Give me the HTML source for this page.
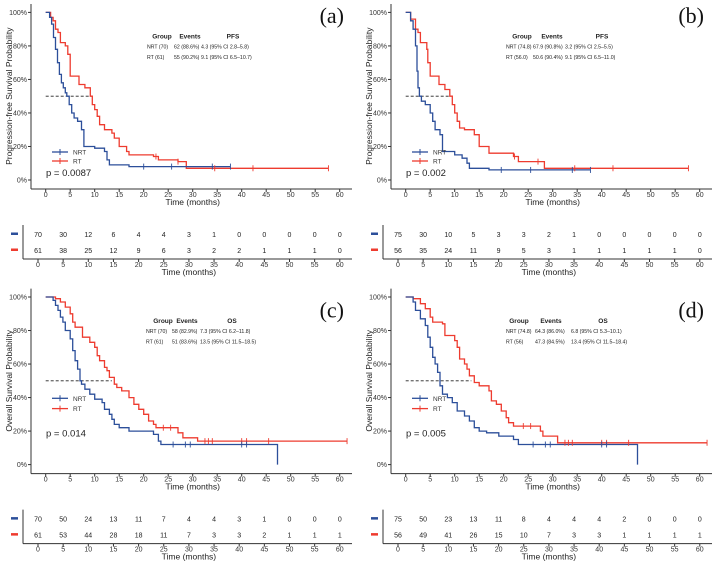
<!DOCTYPE html>
<html><head><meta charset="utf-8"><style>
html,body{margin:0;padding:0;background:#fff;}
svg{display:block;font-family:"Liberation Sans",Arial,sans-serif;}
</style></head><body>
<svg id="fig" width="717" height="564" viewBox="0 0 717 564" xmlns="http://www.w3.org/2000/svg"></svg>
<script>
// ---- data ----
const xTicks=[0,5,10,15,20,25,30,35,40,45,50,55,60];
const yTicks=[0,20,40,60,80,100];
const panelLabels=["(a)","(b)","(c)","(d)"];
const yTitles=["Progression-free Survival Probability","Progression-free Survival Probability","Overall Survival Probability","Overall Survival Probability"];
const pValues=["p = 0.0087","p = 0.002","p = 0.014","p = 0.005"];
const endpoint=["PFS","PFS","OS","OS"];
const tblNrt=[["NRT (70)","62 (88.6%)","4.3 (95% CI 2.8\u20135.8)"],["NRT (74.8)","67.9 (90.8%)","3.2 (95% CI 2.5\u20135.5)"],["NRT (70)","58 (82.9%)","7.3 (95% CI 6.2\u201311.8)"],["NRT (74.8)","64.3 (86.0%)","6.8 (95% CI 5.3\u201310.1)"]];
const tblRt=[["RT (61)","55 (90.2%)","9.1 (95% CI 6.5\u201310.7)"],["RT (56.0)","50.6 (90.4%)","9.1 (95% CI 6.5\u201311.0)"],["RT (61)","51 (83.6%)","13.5 (95% CI 11.5\u201318.5)"],["RT (56)","47.3 (84.5%)","13.4 (95% CI 11.5\u201318.4)"]];
const riskNrt=[[70,30,12,6,4,4,3,1,0,0,0,0,0],[75,30,10,5,3,3,2,1,0,0,0,0,0],[70,50,24,13,11,7,4,4,3,1,0,0,0],[75,50,23,13,11,8,4,4,4,2,0,0,0]];
const riskRt=[[61,38,25,12,9,6,3,2,2,1,1,1,0],[56,35,24,11,9,5,3,1,1,1,1,1,0],[61,53,44,28,18,11,7,3,3,2,1,1,1],[56,49,41,26,15,10,7,3,3,1,1,1,1]];
const medianRt=[9.1,9.1,13.5,13.4];
// NRT curves
const aNrtT=[0.8,1.2,1.6,2,2.4,2.8,3.2,3.6,4,4.3,4.8,5.3,5.8,6.5,7.3,7.8,10,12,12.5,13,17];
const aNrtS=[97,93,85,78,70,63,58,55,52,50,45,40,37,35,30,20,19,17,12,9,8];
const bNrtT=[1,1.5,2,2.3,2.5,2.8,3.2,4,5,5.5,6,7,7.5,10,11.5,12.5,13,17];
const bNrtS=[95,90,80,65,55,50,47,45,40,35,30,27,17,15,13,10,7,6];
const cNrtT=[1.5,2,2.5,3,3.5,4,5,5.5,6,6.5,7,7.3,8,9,10,11.5,12,13,13.5,14,15,17,22,23,23.5,47.3];
const cNrtS=[98,95,92,88,85,80,75,68,62,57,50,48,45,42,39,37,33,30,27,24,22,20,18,14,12,0];
const dNrtT=[1.5,2,3,4,4.5,5,5.5,6,6.5,7,7.5,8.5,9.5,10.5,12,13,14,15,16.5,19,22,23,47.3];
const dNrtS=[97,92,87,83,76,70,64,60,55,47,42,40,37,32,29,26,22,20,19,17,15,12,0];
// RT curves
const aRtT=[1,1.5,2,2.5,3,4,4.5,5,6.8,8,9.1,9.5,10,10.5,11,12,13.5,14,15,16.5,17,22,23,27,28.7];
const aRtS=[97,95,90,88,82,80,75,62,57,55,50,45,42,38,33,30,28,25,20,17,15,14,12,11,7];
const bRtT=[1,2,2.5,3,4.3,4.5,5,6.8,8,9,9.5,10,10.5,11,12,14,15,17,22,23,28.3];
const bRtS=[96,90,88,82,78,70,62,57,54,50,45,40,35,31,30,27,20,16,14,11,7];
const cRtT=[2,3,4,5,5.5,6,7.5,9,10,10.5,11,12,12.5,13,14,14.5,15.5,17,18,19,20,21,22,22.5,27,28,31];
const cRtS=[99,97,94,90,85,82,76,73,70,65,62,58,56,52,48,46,44,40,36,33,30,26,24,22,19,16,14];
const dRtT=[1.5,3,4,5,5.5,7.5,8,10,10.5,11,12,12.5,13,14,15,17,17.5,18.5,19.5,20.5,21,22,27.5,28,31];
const dRtS=[99,96,93,88,85,84,77,74,70,63,60,57,53,49,47,44,38,36,32,28,25,23,20,17,13];
const nrtEnd=[37.7,37.7,47.3,47.3];
const rtEnd=[57.7,57.7,61.5,61.5];
const nrtCens=[[20,25.7,34,37.7],[19.5,25.5,34,37.7],[26,28.5,29.5,40,41],[26,28.5,29.5,40,41]];
const rtCens=[[22.5,27,34.5,42.3,57.7],[22.2,27,34.5,42.3,57.7],[24,25.5,32.5,33.2,34,40,41,45.5,61.5],[24,25.5,32.5,33.2,34,40,41,45.5,61.5]];
const nrtT=[aNrtT,bNrtT,cNrtT,dNrtT], nrtS=[aNrtS,bNrtS,cNrtS,dNrtS];
const rtT=[aRtT,bRtT,cRtT,dRtT], rtS=[aRtS,bRtS,cRtS,dRtS];

const NS="http://www.w3.org/2000/svg";
const svg=document.getElementById('fig');
const BLUE="#2c4f9a", RED="#ee3b2f";
function mk(tag,attrs,parent,text){const e=document.createElementNS(NS,tag);for(const k in attrs)e.setAttribute(k,attrs[k]);if(text!==undefined)e.textContent=text;parent.appendChild(e);return e;}
const X=m=>45.7+m*4.9, Y=p=>180-p*1.676, RX=m=>38+m*5.03;
function survAt(T,S,t){let s=100;for(let i=0;i<T.length;i++){if(T[i]<=t)s=S[i];}return s;}
function stepPath(T,S,end){let d="M"+X(0)+","+Y(100);for(let i=0;i<T.length;i++){d+=" H"+X(T[i]).toFixed(1)+" V"+Y(S[i]).toFixed(1);}if(end>T[T.length-1])d+=" H"+X(end).toFixed(1);return d;}
const offs=[[0,0],[360,0],[0,284.6],[360,284.6]];
const hdrX=[[162,190,233],[162,192,242],[163,187,232],[159,191,243]];
const colX=[[147,174,201],[146,173,205],[146,172,200],[146,175,211]];
for(let p=0;p<4;p++){
  const g=mk('g',{transform:`translate(${offs[p][0]},${offs[p][1]})`},svg);
  
  
  const ax=mk('g',{},g);
  
  
  mk('line',{x1:31,y1:4,x2:31,y2:189,stroke:'#333','stroke-width':1},ax);
  mk('line',{x1:31,y1:189,x2:352,y2:189,stroke:'#333','stroke-width':1},ax);
  yTicks.forEach(t=>{mk('line',{x1:28,x2:31,y1:Y(t),y2:Y(t),stroke:'#333'},ax);
    const tl=mk('text',{x:27,y:Y(t)+2.5,'font-size':7,'text-anchor':'end',fill:'#333'},ax,t+'%');
    });
  xTicks.forEach(t=>{mk('line',{x1:X(t),x2:X(t),y1:189,y2:192,stroke:'#333'},ax);
    const tl=mk('text',{x:X(t),y:197,'font-size':7,'text-anchor':'middle',fill:'#333'},ax,t);
    });
  const xt=mk('text',{x:X(30),y:205,'font-size':8.5,'text-anchor':'middle',fill:'#222'},g,'Time (months)');
  
  const yt=mk('text',{x:0,y:0,'font-size':8.5,'text-anchor':'middle',fill:'#222',transform:`translate(12,${Y(50)}) rotate(-90)`},g,yTitles[p]);
  
  const md=mk('line',{x1:X(0),x2:X(medianRt[p]),y1:Y(50),y2:Y(50),stroke:'#222','stroke-dasharray':'3,2','stroke-width':0.8},g);
  
  const cr=mk('path',{d:stepPath(rtT[p],rtS[p],rtEnd[p]),fill:'none',stroke:RED,'stroke-width':1.3},g);
  
  const cn=mk('path',{d:stepPath(nrtT[p],nrtS[p],nrtEnd[p]),fill:'none',stroke:BLUE,'stroke-width':1.3},g);
  
  rtCens[p].forEach(t=>{const v=survAt(rtT[p],rtS[p],t);const c=mk('line',{x1:X(t),x2:X(t),y1:Y(v)-3,y2:Y(v)+3,stroke:RED,'stroke-width':0.9},g);
    });
  nrtCens[p].forEach(t=>{const v=survAt(nrtT[p],nrtS[p],t);const c=mk('line',{x1:X(t),x2:X(t),y1:Y(v)-3,y2:Y(v)+3,stroke:BLUE,'stroke-width':0.9},g);
    });
  const lgy=p<2?[152,161]:[113.7,124];
  [[BLUE,'NRT'],[RED,'RT']].forEach((e,i)=>{const lg=mk('g',{},g);
    
    mk('line',{x1:52,x2:68,y1:lgy[i],y2:lgy[i],stroke:e[0],'stroke-width':1.3},lg);
    mk('line',{x1:60,x2:60,y1:lgy[i]-3,y2:lgy[i]+3,stroke:e[0],'stroke-width':1},lg);
    mk('text',{x:73,y:lgy[i]+2.5,'font-size':6.5,fill:'#333'},lg,e[1]);});
  const pv=mk('text',{x:46,y:p<2?176:152,'font-size':9.5,fill:'#222'},g,pValues[p]);
  
  const tb=mk('g',{},g);
  
  const ty=38.5;
  mk('text',{x:hdrX[p][0],y:ty,'font-size':6.5,'font-weight':'bold','text-anchor':'middle',fill:'#222'},tb,'Group');
  mk('text',{x:hdrX[p][1],y:ty,'font-size':6.5,'font-weight':'bold','text-anchor':'middle',fill:'#222'},tb,'Events');
  mk('text',{x:hdrX[p][2],y:ty,'font-size':6.5,'font-weight':'bold','text-anchor':'middle',fill:'#222'},tb,endpoint[p]);
  [tblNrt[p],tblRt[p]].forEach((row,r)=>row.forEach((c,j)=>mk('text',{x:colX[p][j],y:ty+10+r*10.5,'font-size':5.2,fill:'#222'},tb,c)));
  const pl=mk('text',{x:344,y:p<2?23:33,'font-size':22,'text-anchor':'end','font-family':'"Liberation Serif",serif',fill:'#111'},g,panelLabels[p]);
  
  const rt=mk('g',{},g);
  
  mk('line',{x1:23,y1:225,x2:23,y2:259,stroke:'#333'},rt);
  mk('line',{x1:23,y1:259,x2:352,y2:259,stroke:'#333'},rt);
  mk('rect',{x:11,y:232.5,width:7,height:2.5,fill:BLUE},rt);
  mk('rect',{x:11,y:248.5,width:7,height:2.5,fill:RED},rt);
  xTicks.forEach((t,i)=>{
    mk('text',{x:RX(t),y:237,'font-size':7,'text-anchor':'middle',fill:'#222'},rt,riskNrt[p][i]);
    mk('text',{x:RX(t),y:253,'font-size':7,'text-anchor':'middle',fill:'#222'},rt,riskRt[p][i]);
    mk('line',{x1:RX(t),x2:RX(t),y1:259,y2:262,stroke:'#333'},rt);
    mk('text',{x:RX(t),y:267,'font-size':7,'text-anchor':'middle',fill:'#333'},rt,t);
  });
  mk('text',{x:RX(30),y:275,'font-size':8.5,'text-anchor':'middle',fill:'#222'},rt,'Time (months)');
}
</script>
</body></html>
